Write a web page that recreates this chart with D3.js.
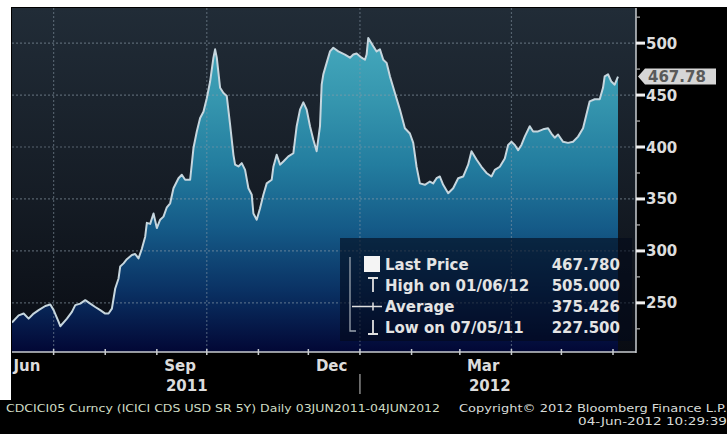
<!DOCTYPE html>
<html><head><meta charset="utf-8">
<script src="https://cdn.jsdelivr.net/npm/d3@7"></script>
<style>html,body{margin:0;padding:0;background:#000;overflow:hidden}</style>
</head><body>
<svg id="chart" width="727" height="434"></svg>
<script>
// ---------- data ----------
const startDate = "2011-06-06";
const endDate = "2012-06-04";
const dayOffsets = [0,4,7,10,13,16,20,23,25,28,29,33,36,38,41,44,47,50,53,56,58,60,62,64,65,67,69,72,74,76,78,80,81,83,85,87,89,91,93,95,97,100,102,104,107,109,111,113,115,117,119,121,122,123,125,127,129,131,133,134,136,138,140,142,144,145,147,149,151,153,156,157,159,161,163,166,169,171,173,175,177,179,181,183,185,186,187,189,191,193,196,200,203,205,207,210,212,213,214,217,219,221,223,225,227,230,233,236,239,241,243,245,248,251,253,255,257,259,262,265,268,271,274,276,279,282,285,288,290,293,296,298,300,302,304,306,308,311,313,316,319,322,324,326,328,331,334,337,340,343,345,347,350,353,355,356,358,360,362,364];
const prices = [231,238,239.7,234.8,239.7,243,247,248.4,243,231.7,227.5,234.8,241.3,247.8,249.3,252.6,249.3,246,243,239.7,239.7,244.5,263.8,273.5,285,288,292,296,297,292.8,302,313.7,327,326,336,322,330,333,342,345.8,360.3,370,373.3,368.5,368.5,399,415,428,434,447,463,486,494,486,457,452,449,421.5,392.5,383,381.3,384.5,378,360.3,354,336,330,341,354,365,368.5,381,392.5,383,386,391,394,420,436,443,436,420,407,396,420,460,470,481,492,495.5,492,489,486,489,490,486,484,489,505,497,492,494,484,481,468,452,436,418,413,404,381,365,363.6,366.8,365,370,371.6,363.6,355.5,360.3,370,371.6,383,396,388,381,375,371.6,378,381,389,402,405,402,397,402,410,420,415,415,417,418,413,409,412,405,404,405,410,418,431,444,446,446,457,468,470,463,460,467.78];
const yTickValues = [250,300,350,400,450,500];
const yMinorValues = [225,275,325,375,425,475,525];
const monthLabels = ["Jun","Sep","Dec","Mar"];
const monthLabelDates = ["2011-06-15","2011-09-15","2011-12-15","2012-03-15"];
const yearLabels = ["2011","2012"];
const yearLabelDates = ["2011-09-19","2012-03-19"];
const yearBreakDate = "2012-01-01";
const legendLabels = ["Last Price","High on 01/06/12","Average","Low on 07/05/11"];
const legendValues = ["467.780","505.000","375.426","227.500"];
const lastPrice = 467.78;
const lastPriceTag = "467.78";
const footerLeft = "CDCICI05 Curncy (ICICI CDS USD SR 5Y)  Daily 03JUN2011-04JUN2012";
const footerRight = "Copyright\u00a9 2012 Bloomberg Finance L.P.";
const footerStamp = "04-Jun-2012 10:29:39";

// ---------- setup ----------
const parse = d3.timeParse("%Y-%m-%d");
const t0 = parse(startDate);
const series = dayOffsets.map((d,i)=>({date:d3.timeDay.offset(t0,d), v:prices[i]}));
const svg = d3.select("#chart");
const W=727,H=434;
const P={left:12,right:636,top:8,bottom:352};
const x = d3.scaleTime().domain([t0, parse(endDate)]).range([12, 618]);
const y = d3.scaleLinear().domain([202.7, 533.8]).range([P.bottom, P.top]);
const font = "'DejaVu Sans', 'Liberation Sans', Arial, sans-serif";

const defs = svg.append("defs");
const bg = defs.append("linearGradient").attr("id","bg").attr("x1",0).attr("x2",0).attr("y1",0).attr("y2",1);
bg.append("stop").attr("offset","0%").attr("stop-color","#212c37");
bg.append("stop").attr("offset","55%").attr("stop-color","#151c25");
bg.append("stop").attr("offset","100%").attr("stop-color","#090c13");
const ag = defs.append("linearGradient").attr("id","ag").attr("gradientUnits","userSpaceOnUse")
  .attr("x1",0).attr("x2",0).attr("y1",40).attr("y2",P.bottom);
[[0,"#44a8bc"],[0.2,"#3595ae"],[0.4,"#237d9f"],[0.6,"#155b88"],[0.8,"#0a3264"],[1,"#020735"]]
  .forEach(([o,c])=>ag.append("stop").attr("offset",o).attr("stop-color",c));
defs.append("clipPath").attr("id","clip").append("rect")
  .attr("x",P.left).attr("y",P.top).attr("width",P.right-P.left).attr("height",P.bottom-P.top);

// frame
svg.append("rect").attr("width",W).attr("height",H).attr("fill","#000");
svg.append("rect").attr("x",0).attr("y",0).attr("width",W).attr("height",7).attr("fill","#fff");
svg.append("rect").attr("x",0).attr("y",0).attr("width",11).attr("height",400).attr("fill","#fff");
svg.append("rect").attr("x",P.left).attr("y",P.top).attr("width",P.right-P.left).attr("height",P.bottom-P.top).attr("fill","url(#bg)");

const plot = svg.append("g").attr("clip-path","url(#clip)");
// area
plot.append("path").datum(series)
  .attr("d", d3.area().x(d=>x(d.date)).y0(P.bottom).y1(d=>y(d.v)))
  .attr("fill","url(#ag)");
// grid
plot.selectAll(".hg").data(yTickValues).join("line")
  .attr("x1",P.left).attr("x2",P.right).attr("y1",d=>y(d)).attr("y2",d=>y(d))
  .attr("stroke","#8a9aa8").attr("stroke-opacity",0.55).attr("stroke-width",1.2).attr("stroke-dasharray","2,2");
plot.selectAll(".vg").data(x.ticks(d3.timeMonth.every(3))).join("line")
  .attr("x1",d=>x(d)).attr("x2",d=>x(d)).attr("y1",P.top).attr("y2",P.bottom)
  .attr("stroke","#8a9aa8").attr("stroke-opacity",0.5).attr("stroke-width",1.2).attr("stroke-dasharray","2,2");
// line
plot.append("path").datum(series)
  .attr("d", d3.line().x(d=>x(d.date)).y(d=>y(d.v)))
  .attr("fill","none").attr("stroke","#c6d6de").attr("stroke-width",2).attr("stroke-linejoin","round");

// legend
const lg = svg.append("g");
lg.append("rect").attr("x",340).attr("y",238).attr("width",292).attr("height",103)
  .attr("fill","#040a1a").attr("fill-opacity",0.62);
const rowY = [264,285,306.5,327];
lg.append("path").attr("d",`M350,257V331H356`).attr("stroke","#9aa4ae").attr("stroke-width",1.3).attr("fill","none");
lg.append("rect").attr("x",364).attr("y",rowY[0]-8).attr("width",16).attr("height",16).attr("fill","#f4f4f4");
lg.append("path").attr("d",`M368,${rowY[1]-7}H378M373,${rowY[1]-7}V${rowY[1]+7}`).attr("stroke","#e0e0e0").attr("stroke-width",1.8).attr("fill","none");
lg.append("path").attr("d",`M352,${rowY[2]}H382M373,${rowY[2]-4}V${rowY[2]+4}`).attr("stroke","#e0e0e0").attr("stroke-width",1.5).attr("fill","none");
lg.append("path").attr("d",`M373,${rowY[3]-7}V${rowY[3]+7}M368,${rowY[3]+7}H378`).attr("stroke","#e0e0e0").attr("stroke-width",1.8).attr("fill","none");
lg.selectAll(".ll").data(legendLabels).join("text")
  .attr("x",385).attr("y",(d,i)=>rowY[i]+5.5).text(d=>d)
  .attr("fill","#e4e4e4").attr("font-family",font).attr("font-size",15).attr("font-weight","bold");
lg.selectAll(".lv").data(legendValues).join("text")
  .attr("x",620).attr("y",(d,i)=>rowY[i]+5.5).attr("text-anchor","end").text(d=>d)
  .attr("fill","#e4e4e4").attr("font-family",font).attr("font-size",15).attr("font-weight","bold");

// axes lines
svg.append("line").attr("x1",P.right).attr("x2",P.right).attr("y1",P.top).attr("y2",P.bottom+1)
  .attr("stroke","#c8ccd0").attr("stroke-width",1.5);
svg.append("line").attr("x1",P.left).attr("x2",P.right).attr("y1",P.bottom).attr("y2",P.bottom)
  .attr("stroke","#c8ccd0").attr("stroke-width",1.5);
// bottom ticks
svg.selectAll(".bt").data(x.ticks(d3.timeMonth.every(1))).join("line")
  .attr("x1",d=>x(d)).attr("x2",d=>x(d)).attr("y1",P.bottom-3).attr("y2",P.bottom+3)
  .attr("stroke","#c8ccd0").attr("stroke-width",1.5);
// right ticks
svg.selectAll(".rt").data(yTickValues).join("rect")
  .attr("x",P.right).attr("y",d=>y(d)-1.5).attr("width",9).attr("height",3).attr("fill","#f0f0f0");
svg.selectAll(".rm").data(yMinorValues).join("line")
  .attr("x1",P.right).attr("x2",P.right+4).attr("y1",d=>y(d)).attr("y2",d=>y(d))
  .attr("stroke","#aaa").attr("stroke-width",1.3);
svg.selectAll(".yl").data(yTickValues).join("text")
  .attr("x",646).attr("y",d=>y(d)+5.5).text(d=>d)
  .attr("fill","#dcdcdc").attr("font-family",font).attr("font-size",15).attr("font-weight","bold");
// last price tag
const ly = y(lastPrice);
svg.append("path").attr("d",`M${P.right+2},${ly}L${P.right+9},${ly-8}H716V${ly+8}H${P.right+9}Z`).attr("fill","#d6d6d6");
svg.append("text").attr("x",648).attr("y",ly+5).text(lastPriceTag)
  .attr("fill","#5a5a5a").attr("font-family",font).attr("font-size",15).attr("font-weight","bold");

// month and year labels
svg.selectAll(".ml").data(monthLabels).join("text")
  .attr("x",(d,i)=>x(parse(monthLabelDates[i]))).attr("y",371).attr("text-anchor","middle").text(d=>d)
  .attr("fill","#dcdcdc").attr("font-family",font).attr("font-size",15).attr("font-weight","bold");
svg.selectAll(".yrl").data(yearLabels).join("text")
  .attr("x",(d,i)=>x(parse(yearLabelDates[i]))).attr("y",391).attr("text-anchor","middle").text(d=>d)
  .attr("fill","#dcdcdc").attr("font-family",font).attr("font-size",15).attr("font-weight","bold");
svg.append("line").attr("x1",x(parse(yearBreakDate))).attr("x2",x(parse(yearBreakDate)))
  .attr("y1",374).attr("y2",394).attr("stroke","#aaa").attr("stroke-width",1.2);

// footer
svg.append("text").attr("x",6).attr("y",412).text(footerLeft)
  .attr("textLength",434).attr("lengthAdjust","spacingAndGlyphs")
  .attr("fill","#cfdcc4").attr("font-family",font).attr("font-size",10.5);
svg.append("text").attr("x",459).attr("y",412).text(footerRight)
  .attr("textLength",268).attr("lengthAdjust","spacingAndGlyphs")
  .attr("fill","#d8dcd8").attr("font-family",font).attr("font-size",10.5);
svg.append("text").attr("x",727).attr("y",425).attr("text-anchor","end").text(footerStamp)
  .attr("textLength",149).attr("lengthAdjust","spacingAndGlyphs")
  .attr("fill","#d8dcd8").attr("font-family",font).attr("font-size",10.5);
</script>
</body></html>
